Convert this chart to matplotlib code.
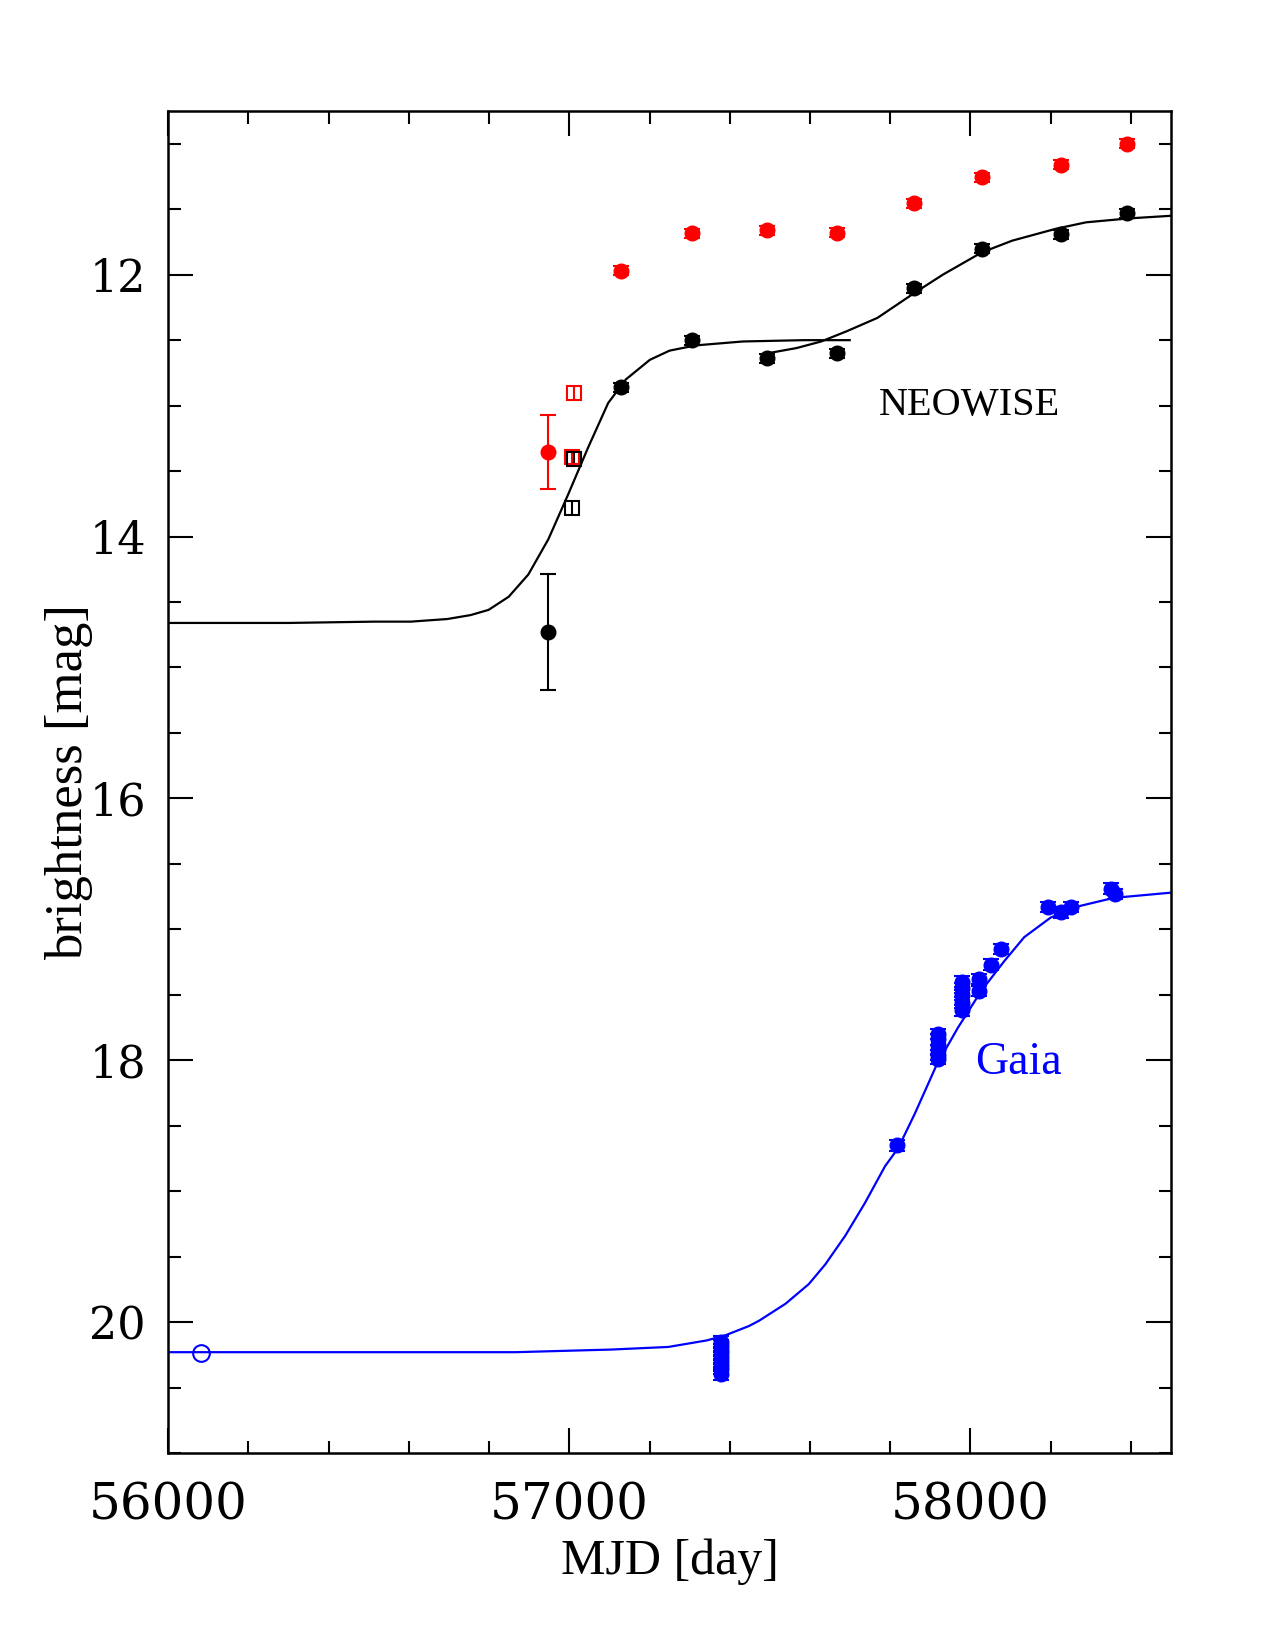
import matplotlib.pyplot as plt
from matplotlib.ticker import MultipleLocator

# NEOWISE, filled points (red = W1, black = W2)
neo_mjd = [56948, 57130, 57307, 57494, 57667, 57860, 58029, 58225, 58390]
neo_red = [13.355, 11.97, 11.685, 11.66, 11.68, 11.456, 11.256, 11.16, 11.0]
neo_red_err = [0.28, 0.035, 0.035, 0.035, 0.035, 0.035, 0.035, 0.035, 0.035]
neo_blk = [14.73, 12.86, 12.50, 12.64, 12.60, 12.105, 11.80, 11.69, 11.53]
neo_blk_err = [0.445, 0.035, 0.035, 0.035, 0.035, 0.035, 0.035, 0.035, 0.035]

# open squares
sq_mjd = [57011, 57006]
sq_red = [12.90, 13.39]
sq_blk = [13.41, 13.785]
sq_err = [0.05, 0.05]

# model curves
fit1_mjd = [56000, 56300, 56514, 56605, 56696, 56754, 56799, 56849, 56898, 56948,
            56997, 57047, 57097, 57141, 57201, 57250, 57315, 57433, 57585, 57699]
fit1_mag = [14.66, 14.66, 14.65, 14.65, 14.63, 14.60, 14.56, 14.46, 14.29, 14.02,
            13.68, 13.32, 12.98, 12.80, 12.65, 12.58, 12.54, 12.51, 12.50, 12.50]
fit2_mjd = [57495, 57567, 57628, 57693, 57768, 57860, 57931, 58028, 58104, 58212,
            58288, 58395, 58500]
fit2_mag = [12.60, 12.56, 12.51, 12.43, 12.33, 12.14, 12.00, 11.83, 11.74, 11.65,
            11.60, 11.57, 11.55]
gfit_mjd = [56000, 56500, 56866, 57104, 57247, 57343, 57390, 57448, 57473, 57539,
            57597, 57638, 57688, 57737, 57787, 57820, 57861, 57915, 57969, 58027,
            58085, 58134, 58200, 58275, 58357, 58500]
gfit_mag = [20.23, 20.23, 20.23, 20.21, 20.19, 20.14, 20.10, 20.03, 19.99, 19.86,
            19.71, 19.56, 19.34, 19.09, 18.81, 18.67, 18.41, 18.04, 17.75, 17.47,
            17.24, 17.06, 16.91, 16.82, 16.76, 16.72]

# Gaia photometry
gaia_mjd = [57378] * 9 + [57818] + [57919] * 6 + [57979] * 5 + [58022, 58022,
            58051, 58076, 58192, 58225, 58250, 58349, 58359]
gaia_mag = [20.15, 20.18, 20.21, 20.24, 20.27, 20.30, 20.33, 20.36, 20.40,
            18.65,
            17.80, 17.84, 17.88, 17.92, 17.96, 17.99,
            17.40, 17.45, 17.50, 17.56, 17.62,
            17.38, 17.47, 17.27, 17.15, 16.83, 16.87, 16.83, 16.69, 16.73]
gaia_err = [0.04] * len(gaia_mag)

pre_mjd = [56083]
pre_mag = [20.24]

plt.rcParams['font.family'] = ['Liberation Serif', 'DejaVu Serif']

fig = plt.figure(figsize=(12.75, 16.5), dpi=100)
ax = fig.add_axes([0.1318, 0.1194, 0.7867, 0.8133])

ax.plot(fit1_mjd, fit1_mag, color='k', lw=1.6)
ax.plot(fit2_mjd, fit2_mag, color='k', lw=1.6)
ax.plot(gfit_mjd, gfit_mag, color='#0000ff', lw=1.6)

ax.errorbar(neo_mjd, neo_red, yerr=neo_red_err, fmt='o', color='#ff0000',
            ms=10.5, capsize=6, elinewidth=1.5, capthick=1.5)
ax.errorbar(neo_mjd, neo_blk, yerr=neo_blk_err, fmt='o', color='k',
            ms=10.5, capsize=6, elinewidth=1.5, capthick=1.5)
ax.errorbar(sq_mjd, sq_red, yerr=sq_err, fmt='s', color='#ff0000', mfc='none',
            ms=9.5, mew=1.5, capsize=0, elinewidth=1.5)
ax.errorbar(sq_mjd, sq_blk, yerr=sq_err, fmt='s', color='k', mfc='none',
            ms=9.5, mew=1.5, capsize=0, elinewidth=1.5)
ax.errorbar(gaia_mjd, gaia_mag, yerr=gaia_err, fmt='o', color='#0000ff',
            ms=10.5, capsize=6, elinewidth=1.5, capthick=1.5)
ax.plot(pre_mjd, pre_mag, 'o', color='#0000ff', mfc='none', ms=12, mew=1.5)

ax.text(57998, 13.0, 'NEOWISE', fontsize=29, ha='center', va='center')
ax.text(58120, 18.02, 'Gaia', fontsize=33, ha='center', va='center', color='#0000ff')

ax.set_xlim(56000, 58500)
ax.set_ylim(21, 10.75)
ax.xaxis.set_major_locator(MultipleLocator(1000))
ax.xaxis.set_minor_locator(MultipleLocator(200))
ax.yaxis.set_major_locator(MultipleLocator(2))
ax.yaxis.set_minor_locator(MultipleLocator(0.5))
ax.tick_params(which='both', direction='in', top=True, right=True, width=1.5)
ax.tick_params(which='major', length=18)
ax.tick_params(which='minor', length=9)
ax.tick_params(axis='x', labelsize=36, pad=20)
ax.tick_params(axis='y', labelsize=32, pad=16)
for lab in ax.get_xticklabels() + ax.get_yticklabels():
    lab.set_family('DejaVu Serif')
for s in ax.spines.values():
    s.set_linewidth(1.8)

ax.set_xlabel('MJD [day]', fontsize=36, labelpad=6)
ax.set_ylabel('brightness [mag]', fontsize=38, labelpad=-3)

fig.savefig('out.png', dpi=100)
